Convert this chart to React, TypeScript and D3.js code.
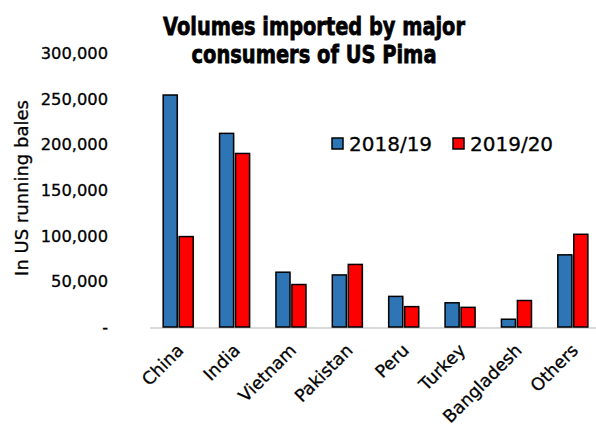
import React from "react";
import * as d3 from "d3";

const categories = ["China", "India", "Vietnam", "Pakistan", "Peru", "Turkey", "Bangladesh", "Others"];
const series1819 = [254000, 212000, 60000, 57000, 33500, 26500, 8500, 79000];
const series1920 = [99000, 190000, 46500, 68500, 22300, 21500, 29000, 101500];
const seriesNames = ["2018/19", "2019/20"];
const yTicks = [0, 50000, 100000, 150000, 200000, 250000, 300000];

const W = 596, H = 428;
const colors = ["#2E75B6", "#FF0000"];

export default function App() {
  const x = d3.scaleBand<string>().domain(categories).range([150, 601]);
  const y = d3.scaleLinear().domain([0, 300000]).range([327, 53]);
  const sub = d3.scaleBand<number>().domain([0, 1]).range([0, 30]).paddingInner(0.12);
  const fmt = (v: number) => (v === 0 ? "-" : d3.format(",")(v));
  const data = [series1819, series1920];
  const font = "'DejaVu Sans', sans-serif";
  const titleFont = "'DejaVu Sans', sans-serif";
  const txtStroke = { stroke: "#000", strokeWidth: 0.3 };
  return (
    <svg width={W} height={H} style={{ position: "absolute", left: 0, top: 0, background: "#fff" }} fontFamily={font}>
      <text x={314} y={35} textAnchor="middle" fontSize={25} fontWeight="bold" fontFamily={titleFont} textLength={302} lengthAdjust="spacingAndGlyphs" stroke="#000" strokeWidth={0.8}>Volumes imported by major</text>
      <text x={314} y={63} textAnchor="middle" fontSize={25} fontWeight="bold" fontFamily={titleFont} textLength={245} lengthAdjust="spacingAndGlyphs" stroke="#000" strokeWidth={0.8}>consumers of US Pima</text>
      {yTicks.map((t) => (
        <text key={t} x={108} y={y(t)} dy="0.36em" textAnchor="end" fontSize={16.3} {...txtStroke}>{fmt(t)}</text>
      ))}
      <text transform={`translate(22,188) rotate(-90)`} textAnchor="middle" dy="0.36em" fontSize={18} {...txtStroke}>In US running bales</text>
      <line x1={150} x2={601} y1={y(0) + 1} y2={y(0) + 1} stroke="#d9d9d9" strokeWidth={2} />
      {categories.map((c, i) => (
        <g key={c}>
          {data.map((s, k) => {
            const bx = (x(c) as number) + (x.bandwidth() - 30) / 2 + (sub(k) as number);
            return (
              <g key={k}>
                <rect x={bx + 1} y={y(s[i]) + 1} width={sub.bandwidth()} height={y(0) - y(s[i])} fill="#bbb" opacity={0.6} />
                <rect x={bx} y={y(s[i])} width={sub.bandwidth()} height={y(0) - y(s[i])} fill={colors[k]} stroke="#000" strokeWidth={1.5} />
              </g>
            );
          })}
          <text transform={`translate(${(x(c) as number) + x.bandwidth() / 2 + 2},${347}) rotate(-45)`} textAnchor="end" fontSize={17.5} dy="0.36em" {...txtStroke}>{c}</text>
        </g>
      ))}
      {seriesNames.map((n, k) => (
        <g key={n} transform={`translate(${332 + k * 121},138)`}>
          <rect x={0} y={0} width={11} height={11} fill={colors[k]} stroke="#000" strokeWidth={1.5} />
          <text x={17} y={6} dy="0.36em" fontSize={20} {...txtStroke}>{n}</text>
        </g>
      ))}
    </svg>
  );
}
